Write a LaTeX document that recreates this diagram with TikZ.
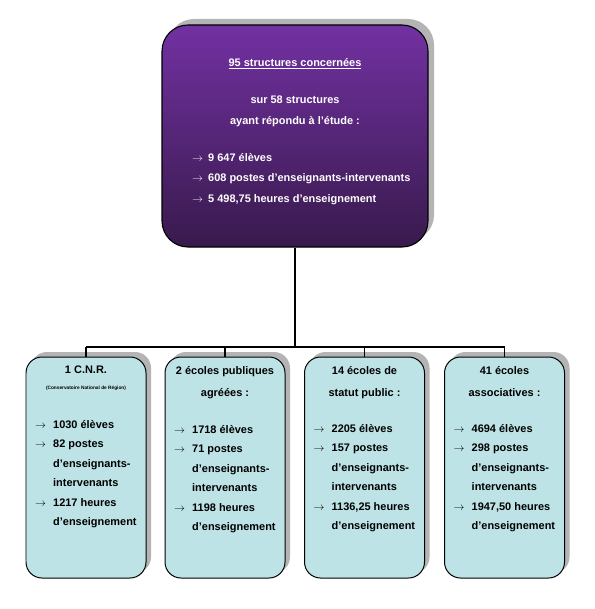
\documentclass[tikz,border=0pt]{standalone}
\usepackage{fontspec}
\setmainfont{Liberation Sans}
\usetikzlibrary{shadows,positioning}
\definecolor{rgviolet}{HTML}{7231A2}
\definecolor{rgvioletdark}{HTML}{381A4C}
\definecolor{rgcyan}{HTML}{BDE3E6}
\definecolor{rgshadow}{HTML}{B4B4B4}

\newcommand{\fl}{\makebox[16bp][l]{$\rightarrow$}}
\newcommand{\fr}{\makebox[18bp][l]{$\rightarrow$}}
\newcommand{\ind}{\hspace*{18bp}}

\tikzset{
  bigbox/.style={draw=black, line width=1.1pt, rounded corners=26bp,
    minimum width=266bp, minimum height=222bp,
    top color=rgviolet, bottom color=rgvioletdark,
    drop shadow={shadow xshift=6bp, shadow yshift=6bp, fill=rgshadow, opacity=1}},
  smallbox/.style={draw=black, line width=1pt, rounded corners=16bp,
    minimum width=120bp, minimum height=221bp, fill=rgcyan,
    drop shadow={shadow xshift=5bp, shadow yshift=5bp, fill=rgshadow, opacity=1}},
  toptext/.style={text=white, inner sep=0pt,
    font=\bfseries\fontsize{11}{20.5}\selectfont},
  boxhead/.style={inner sep=0pt, align=center,
    font=\bfseries\fontsize{11}{22}\selectfont},
  boxlist/.style={inner sep=0pt, align=left, anchor=north west,
    font=\bfseries\fontsize{11}{19.6}\selectfont},
  conn/.style={draw=black, line width=1.5pt}
}

\begin{document}
\begin{tikzpicture}[x=1bp, y=-1bp]
  \useasboundingbox (0,0) rectangle (595,609);

  % main box
  \node[bigbox] (top) at (295,136) {};
  \node[toptext] (toptitle) at (295,64) {\underline{95 structures concernées}};
  \node[toptext, align=center, anchor=north] (topsub) at (295,96)
    {sur 58 structures\\ayant répondu à l’étude :};
  \node[toptext, align=left, anchor=north west] (toplist) at (192,153)
    {\fl 9 647 élèves\\
     \fl 608 postes d’enseignants-intervenants\\
     \fl 5 498,75 heures d’enseignement};

  % four boxes
  \node[smallbox] (cnr)  at (86,467.5) {};
  \node[smallbox] (pub)  at (225,467.5) {};
  \node[smallbox] (stat) at (364.5,467.5) {};
  \node[smallbox] (asso) at (504.5,467.5) {};

  % connectors
  \coordinate (hub) at (295,347);
  \draw[conn] (top.south) -- (hub);
  \draw[conn] (cnr.north |- hub) -- (asso.north |- hub);
  \foreach \b in {cnr,pub,stat,asso}
    \draw[conn] (\b.north) -- (\b.north |- hub);

  % texts of the boxes
  \node[boxhead, anchor=north] (cnrhead) at (86,366)
    {1 C.N.R.\\[-6pt]{\fontsize{4.8}{6}\selectfont (Conservatoire National de Région)}};
  \node[boxhead, anchor=north] (pubhead) at (225,366)
    {2 écoles publiques\\agréées :};
  \node[boxhead, anchor=north] (stathead) at (364.5,366)
    {14 écoles de\\statut public :};
  \node[boxhead, anchor=north] (assohead) at (504.5,366)
    {41 écoles\\associatives :};

  \node[boxlist] (cnrlist) at (35,420)
    {\fr 1030 élèves\\ \fr 82 postes\\ \ind d’enseignants-\\ \ind intervenants\\
     \fr 1217 heures\\ \ind d’enseignement};
  \node[boxlist] (publist) at (174,425)
    {\fr 1718 élèves\\ \fr 71 postes\\ \ind d’enseignants-\\ \ind intervenants\\
     \fr 1198 heures\\ \ind d’enseignement};
  \node[boxlist] (statlist) at (313.5,424)
    {\fr 2205 élèves\\ \fr 157 postes\\ \ind d’enseignants-\\ \ind intervenants\\
     \fr 1136,25 heures\\ \ind d’enseignement};
  \node[boxlist] (assolist) at (453.5,424)
    {\fr 4694 élèves\\ \fr 298 postes\\ \ind d’enseignants-\\ \ind intervenants\\
     \fr 1947,50 heures\\ \ind d’enseignement};
\end{tikzpicture}
\end{document}
